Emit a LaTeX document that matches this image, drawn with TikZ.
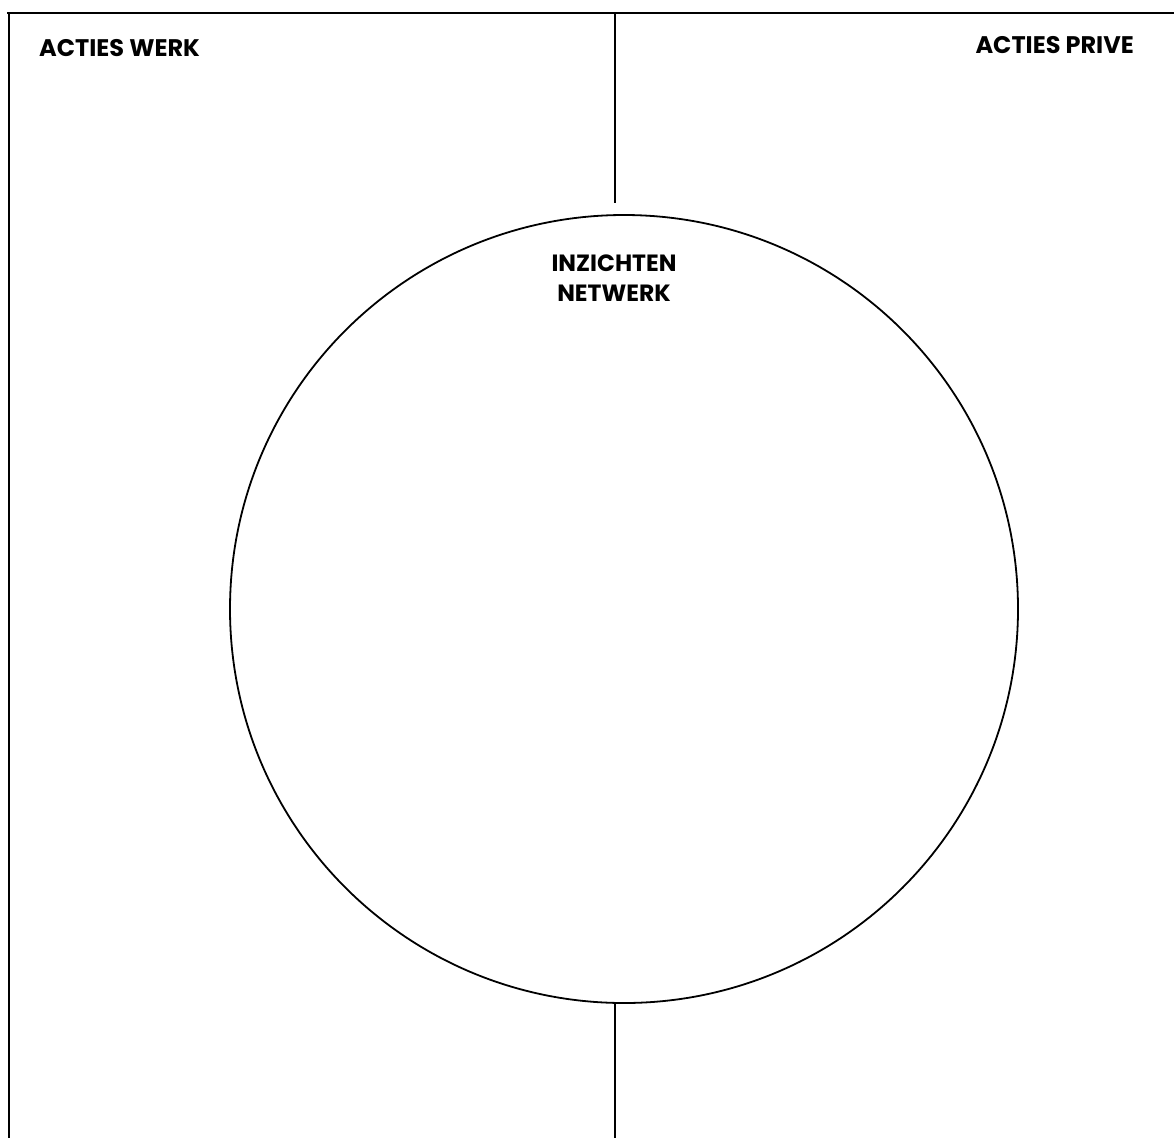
\documentclass[tikz,border=0pt]{standalone}
\usepackage{fontspec}
\setmainfont{Poppins}
\usepackage{xcolor}
\usetikzlibrary{calc,positioning}

\begin{document}
\begin{tikzpicture}[x=1pt,y=-1pt,
  rule/.style={draw=black,line width=1.8pt},
  head/.style={font=\bfseries\fontsize{24}{28}\selectfont,inner sep=0pt,text=black},
  ring/.style={circle,draw=black,line width=1.8pt,minimum size=788pt,inner sep=0pt}]
\useasboundingbox (0,0) rectangle (1174,1138);
% frame
\coordinate (tl) at (7,13);\coordinate (tr) at (1174,13);\coordinate (bl) at (9,1138);
\draw[rule] (tl) -- (tr);\draw[rule] ($(tl)+(2,0)$) -- (bl);
% headings
\node[head,anchor=base west] (werk) at (39,56) {ACTIES WERK};
\node[head,anchor=base east] (prive) at (1134,53) {ACTIES PRIVE};
% circle
\node[ring] (net) at (624,609) {};
\node[head,align=center,anchor=north,font=\bfseries\fontsize{23.5}{30}\selectfont] (inz) at (614,255) {INZICHTEN\\NETWERK};
% middle divider
\coordinate (mtop) at (615,13);\coordinate (mgap) at (615,203);\coordinate (mbot) at (615,1138);
\draw[rule] (mtop) -- (mgap);
\draw[rule] (net.south -| mbot) -- (mbot);
\end{tikzpicture}
\end{document}
